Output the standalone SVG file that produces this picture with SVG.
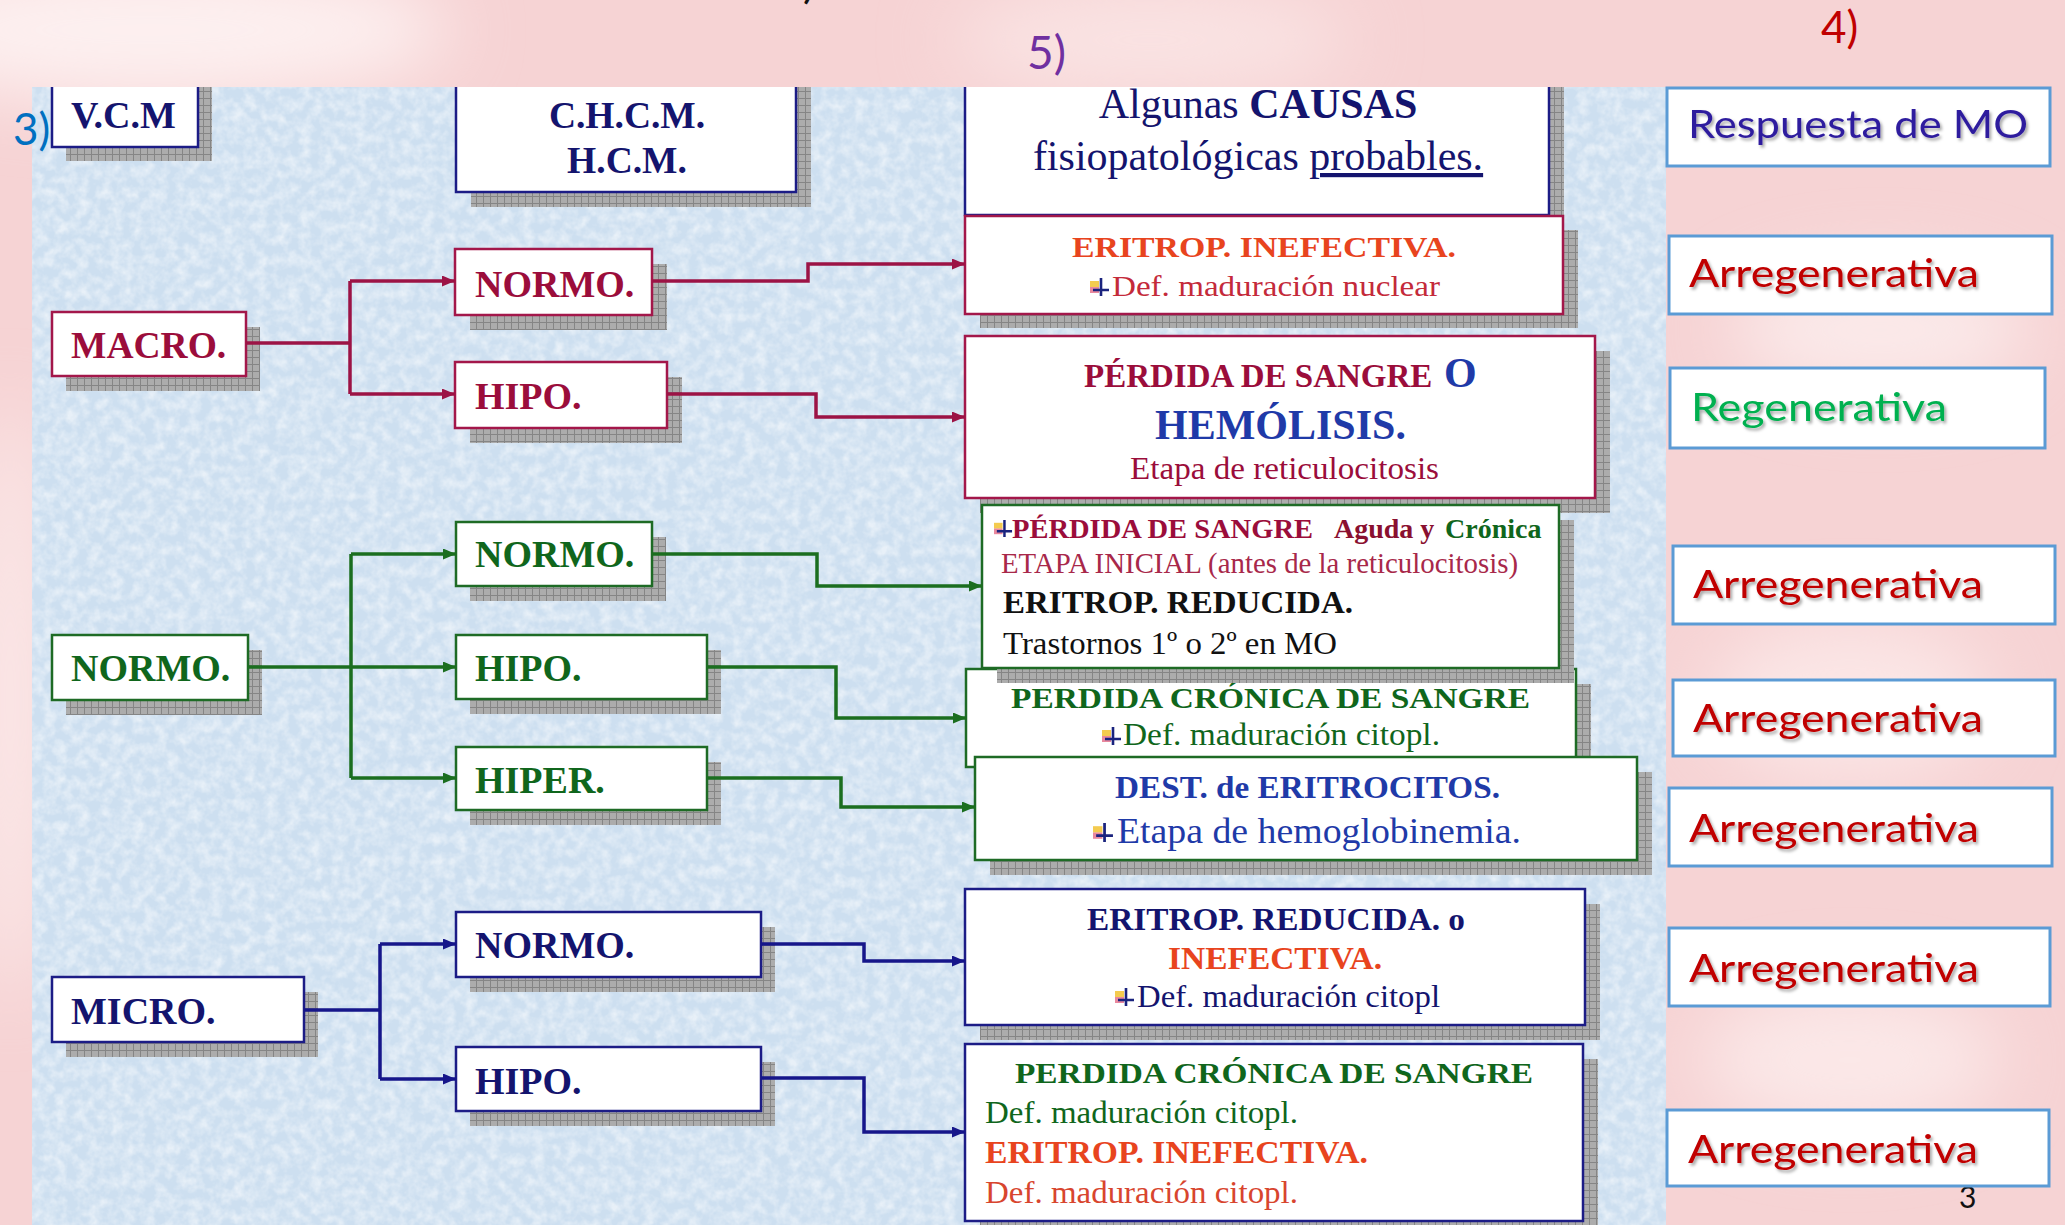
<svg xmlns="http://www.w3.org/2000/svg" xmlns:xlink="http://www.w3.org/1999/xlink" width="2065" height="1225" viewBox="0 0 2065 1225">
<defs>
<style>
.sf{font-family:'Liberation Serif','Times New Roman',serif}
.bd{font-weight:bold}
.cal{font-family:Lato,'Open Sans','Liberation Sans',sans-serif}
.box{fill:#fff;stroke-width:2.5}
.bc{stroke:#a3174a}
.bg{stroke:#1e6b25}
.bn{stroke:#1c1c86}
.sh{fill:url(#grid)}
.rb{fill:#fff;stroke:#5b9bd5;stroke-width:3}
.tc{fill:#9b0d3b}
.tg{fill:#10661c}
.tn{fill:#14146e}
.tb{fill:#1f3aa8}
.to{fill:#e8441e}
.tr{fill:#c00000}
.lc{fill:none;stroke:#9c1345;stroke-width:3.5}
.lg{fill:none;stroke:#1b6e1f;stroke-width:3.5}
.ln{fill:none;stroke:#16168a;stroke-width:3.5}
</style>
<pattern id="grid" width="7" height="7" patternUnits="userSpaceOnUse">
<rect width="7" height="7" fill="#acacac"/>
<path d="M0,0.5 H7 M0.5,0 V7" stroke="#858585" stroke-width="1"/>
</pattern>
<marker id="ac" markerWidth="13" markerHeight="11" refX="13" refY="5.5" orient="auto" markerUnits="userSpaceOnUse"><path d="M0,0 L13,5.5 L0,11 z" fill="#9c1345"/></marker>
<marker id="ag" markerWidth="13" markerHeight="11" refX="13" refY="5.5" orient="auto" markerUnits="userSpaceOnUse"><path d="M0,0 L13,5.5 L0,11 z" fill="#1b6e1f"/></marker>
<marker id="an" markerWidth="13" markerHeight="11" refX="13" refY="5.5" orient="auto" markerUnits="userSpaceOnUse"><path d="M0,0 L13,5.5 L0,11 z" fill="#16168a"/></marker>
<filter id="blur" x="-50%" y="-50%" width="200%" height="200%"><feGaussianBlur stdDeviation="35"/></filter>
<filter id="noise" x="0" y="0" width="100%" height="100%">
<feTurbulence type="fractalNoise" baseFrequency="0.09" numOctaves="3" seed="7"/>
<feColorMatrix type="matrix" values="0 0 0 0 1  0 0 0 0 1  0 0 0 0 1  0 0 -2.0 0 1.3"/>
</filter>
<filter id="ts" x="-10%" y="-20%" width="120%" height="150%"><feDropShadow dx="2" dy="2.5" stdDeviation="1.5" flood-color="#000" flood-opacity="0.35"/></filter>
<clipPath id="topclip"><rect x="0" y="0" width="2065" height="87"/></clipPath>
<symbol id="ico" viewBox="0 0 20 20" overflow="visible">
<rect x="0" y="4" width="9" height="6" fill="#f2c230" opacity="0.85"/>
<rect x="0" y="10" width="9" height="6" fill="#e2607e" opacity="0.75"/>
<path d="M11,1 V19 M3,13 H19" stroke="#1a237e" stroke-width="2.6"/>
</symbol>
<g id="bgpink">
<rect x="0" y="0" width="2065" height="1225" fill="#f6d3d4"/>
<g filter="url(#blur)">
<ellipse cx="150" cy="30" rx="300" ry="70" fill="#fdf0f0"/>
<ellipse cx="1150" cy="40" rx="200" ry="50" fill="#fae4e4"/>
<ellipse cx="1880" cy="330" rx="150" ry="60" fill="#fbeaea"/>
<ellipse cx="1850" cy="700" rx="140" ry="80" fill="#fbe6e6"/>
<ellipse cx="1850" cy="1060" rx="150" ry="70" fill="#fbe8e8"/>
<ellipse cx="10" cy="700" rx="40" ry="300" fill="#fbe9e9"/>
</g>
</g>
</defs>

<use xlink:href="#bgpink"/>
<g id="panel">
<rect x="32" y="87" width="1634" height="1138" fill="#cddff0"/>
<rect x="32" y="87" width="1634" height="1138" fill="#fff" filter="url(#noise)" opacity="0.55"/>
</g>

<g id="vcm">
<rect class="sh" x="66" y="75" width="146" height="86"/>
<rect class="box bn" x="52" y="60" width="146" height="87"/>
<text class="sf bd tn" x="71" y="128" font-size="38">V.C.M</text>
</g>
<g id="chcm">
<rect class="sh" x="471" y="75" width="340" height="132"/>
<rect class="box bn" x="456" y="60" width="340" height="132"/>
<text class="sf bd tn" x="627" y="128" font-size="37.5" text-anchor="middle">C.H.C.M.</text>
<text class="sf bd tn" x="627" y="173" font-size="37.5" text-anchor="middle">H.C.M.</text>
</g>

<g id="macro">
<rect class="sh" x="66" y="327" width="194" height="64"/>
<rect class="box bc" x="52" y="312" width="194" height="64"/>
<text class="sf bd tc" x="71" y="358" font-size="37.5">MACRO.</text>
</g>
<g id="macro-normo">
<rect class="sh" x="470" y="264" width="197" height="66"/>
<rect class="box bc" x="455" y="249" width="197" height="66"/>
<text class="sf bd tc" x="475" y="297" font-size="38">NORMO.</text>
</g>
<g id="macro-hipo">
<rect class="sh" x="470" y="377" width="212" height="66"/>
<rect class="box bc" x="455" y="362" width="212" height="66"/>
<text class="sf bd tc" x="475" y="409" font-size="38">HIPO.</text>
</g>

<g id="normo">
<rect class="sh" x="66" y="650" width="196" height="65"/>
<rect class="box bg" x="52" y="635" width="196" height="65"/>
<text class="sf bd tg" x="71" y="681" font-size="38">NORMO.</text>
</g>
<g id="normo-normo">
<rect class="sh" x="470" y="537" width="196" height="64"/>
<rect class="box bg" x="456" y="522" width="196" height="64"/>
<text class="sf bd tg" x="475" y="567" font-size="38">NORMO.</text>
</g>
<g id="normo-hipo">
<rect class="sh" x="470" y="650" width="251" height="64"/>
<rect class="box bg" x="456" y="635" width="251" height="64"/>
<text class="sf bd tg" x="475" y="681" font-size="38">HIPO.</text>
</g>
<g id="normo-hiper">
<rect class="sh" x="470" y="762" width="251" height="63"/>
<rect class="box bg" x="456" y="747" width="251" height="63"/>
<text class="sf bd tg" x="475" y="793" font-size="38">HIPER.</text>
</g>

<g id="micro">
<rect class="sh" x="66" y="992" width="252" height="65"/>
<rect class="box bn" x="52" y="977" width="252" height="65"/>
<text class="sf bd tn" x="71" y="1024" font-size="38">MICRO.</text>
</g>
<g id="micro-normo">
<rect class="sh" x="470" y="927" width="305" height="65"/>
<rect class="box bn" x="456" y="912" width="305" height="65"/>
<text class="sf bd tn" x="475" y="958" font-size="38">NORMO.</text>
</g>
<g id="micro-hipo">
<rect class="sh" x="470" y="1062" width="305" height="64"/>
<rect class="box bn" x="456" y="1047" width="305" height="64"/>
<text class="sf bd tn" x="475" y="1094" font-size="38">HIPO.</text>
</g>

<g id="causas">
<rect class="sh" x="980" y="75" width="584" height="155"/>
<rect class="box bn" x="965" y="60" width="584" height="155"/>
<text class="sf tn" x="1258" y="118" font-size="42" text-anchor="middle">Algunas <tspan class="bd">CAUSAS</tspan></text>
<text class="sf tn" x="1258" y="170" font-size="42" text-anchor="middle">fisiopatológicas <tspan text-decoration="underline">probables.</tspan></text>
</g>
<g id="c-eritrop-inef">
<rect class="sh" x="980" y="230" width="598" height="98"/>
<rect class="box bc" x="965" y="216" width="598" height="98"/>
<text class="sf bd to" x="1072" y="257" font-size="29" textLength="384" lengthAdjust="spacingAndGlyphs">ERITROP. INEFECTIVA.</text>
<use xlink:href="#ico" x="1090" y="277" width="20" height="20"/>
<text class="sf" x="1112" y="296" font-size="30" fill="#c42a3a" textLength="328" lengthAdjust="spacingAndGlyphs">Def. maduración nuclear</text>
</g>
<g id="c-perdida-hemolisis">
<rect class="sh" x="980" y="351" width="630" height="162"/>
<rect class="box bc" x="965" y="336" width="630" height="162"/>
<text class="sf bd" x="1084" y="387" font-size="33"><tspan class="tc">PÉRDIDA DE SANGRE </tspan><tspan class="tb" x="1444" font-size="42">O</tspan></text>
<text class="sf bd tb" x="1155" y="439" font-size="42">HEMÓLISIS.</text>
<text class="sf tc" x="1130" y="479" font-size="32" textLength="309" lengthAdjust="spacingAndGlyphs">Etapa de reticulocitosis</text>
</g>
<g id="c-perdida-cronica-1">
<rect class="sh" x="981" y="684" width="610" height="92"/>
<rect class="box bg" x="966" y="669" width="610" height="98"/>
<text class="sf bd tg" x="1011" y="708" font-size="30" textLength="519" lengthAdjust="spacingAndGlyphs">PERDIDA CRÓNICA DE SANGRE</text>
<use xlink:href="#ico" x="1102" y="726" width="20" height="20"/>
<text class="sf tg" x="1123" y="745" font-size="31" textLength="317" lengthAdjust="spacingAndGlyphs">Def. maduración citopl.</text>
</g>
<g id="c-perdida-aguda">
<rect class="sh" x="997" y="520" width="577" height="163"/>
<rect class="box bg" x="982" y="505" width="577" height="163"/>
<use xlink:href="#ico" x="994" y="519" width="19" height="19"/>
<text class="sf bd" x="1012" y="538" font-size="28"><tspan class="tc" textLength="301" lengthAdjust="spacingAndGlyphs">PÉRDIDA DE SANGRE</tspan><tspan x="1334" fill="#8a1030">Aguda y </tspan><tspan x="1445" class="tg">Crónica</tspan></text>
<text class="sf" x="1001" y="573" font-size="29" fill="#a8284a" textLength="517" lengthAdjust="spacingAndGlyphs">ETAPA INICIAL (antes de la reticulocitosis)</text>
<text class="sf bd" x="1003" y="613" font-size="32" fill="#111" textLength="350" lengthAdjust="spacingAndGlyphs">ERITROP. REDUCIDA.</text>
<text class="sf" x="1003" y="654" font-size="32" fill="#111" textLength="334" lengthAdjust="spacingAndGlyphs">Trastornos 1º o 2º en MO</text>
</g>
<g id="c-dest-eritrocitos">
<rect class="sh" x="990" y="772" width="662" height="103"/>
<rect class="box bg" x="975" y="757" width="662" height="103"/>
<text class="sf bd tb" x="1115" y="798" font-size="31" textLength="385" lengthAdjust="spacingAndGlyphs">DEST. de ERITROCITOS.</text>
<use xlink:href="#ico" x="1093" y="822" width="21" height="21"/>
<text class="sf tb" x="1117" y="843" font-size="35" textLength="404" lengthAdjust="spacingAndGlyphs">Etapa de hemoglobinemia.</text>
</g>
<g id="c-eritrop-reducida">
<rect class="sh" x="980" y="904" width="620" height="136"/>
<rect class="box bn" x="965" y="889" width="620" height="136"/>
<text class="sf bd tn" x="1087" y="930" font-size="31" textLength="378" lengthAdjust="spacingAndGlyphs">ERITROP. REDUCIDA. o</text>
<text class="sf bd to" x="1168" y="969" font-size="31" textLength="214" lengthAdjust="spacingAndGlyphs">INEFECTIVA.</text>
<use xlink:href="#ico" x="1115" y="987" width="20" height="20"/>
<text class="sf tn" x="1137" y="1007" font-size="31" textLength="303" lengthAdjust="spacingAndGlyphs">Def. maduración citopl</text>
</g>
<g id="c-perdida-cronica-2">
<rect class="sh" x="980" y="1059" width="618" height="177"/>
<rect class="box bn" x="965" y="1044" width="618" height="177"/>
<text class="sf bd tg" x="1015" y="1083" font-size="30" textLength="518" lengthAdjust="spacingAndGlyphs">PERDIDA CRÓNICA DE SANGRE</text>
<text class="sf tg" x="985" y="1123" font-size="31" textLength="313" lengthAdjust="spacingAndGlyphs">Def. maduración citopl.</text>
<text class="sf bd to" x="985" y="1163" font-size="31" textLength="383" lengthAdjust="spacingAndGlyphs">ERITROP. INEFECTIVA.</text>
<text class="sf" x="985" y="1203" font-size="31" fill="#d8452e" textLength="313" lengthAdjust="spacingAndGlyphs">Def. maduración citopl.</text>
</g>

<g id="connectors">
<path class="lc" d="M246,343 H350 M350,281 V394"/>
<path class="lc" d="M350,281 H455" marker-end="url(#ac)"/>
<path class="lc" d="M350,394 H455" marker-end="url(#ac)"/>
<path class="lc" d="M652,281 H808 V264 H965" marker-end="url(#ac)"/>
<path class="lc" d="M667,394 H816 V417 H965" marker-end="url(#ac)"/>
<path class="lg" d="M248,667 H456" marker-end="url(#ag)"/>
<path class="lg" d="M351,554 V778"/>
<path class="lg" d="M351,554 H456" marker-end="url(#ag)"/>
<path class="lg" d="M351,778 H456" marker-end="url(#ag)"/>
<path class="lg" d="M652,554 H817 V586 H982" marker-end="url(#ag)"/>
<path class="lg" d="M707,667 H836 V718 H966" marker-end="url(#ag)"/>
<path class="lg" d="M707,778 H841 V807 H975" marker-end="url(#ag)"/>
<path class="ln" d="M304,1010 H380 M380,944 V1079"/>
<path class="ln" d="M380,944 H456" marker-end="url(#an)"/>
<path class="ln" d="M380,1079 H456" marker-end="url(#an)"/>
<path class="ln" d="M761,944 H864 V961 H965" marker-end="url(#an)"/>
<path class="ln" d="M761,1078 H864 V1132 H965" marker-end="url(#an)"/>
</g>

<use xlink:href="#bgpink" clip-path="url(#topclip)"/>

<g id="labels">
<text class="cal" x="803" y="-2" font-size="44" fill="#111">)</text>
<text class="cal" x="13" y="145" font-size="44" fill="#0070c0">3)</text>
<text class="cal" x="1027" y="69" font-size="46" fill="#7030a0">5)</text>
<text class="cal" x="1821" y="43" font-size="44" fill="#c00000">4)</text>
<text class="cal" x="1959" y="1208" font-size="30" fill="#111">3</text>
</g>

<g id="r-respuesta">
<rect class="rb" x="1667" y="88" width="383" height="78"/>
<text class="cal" x="1688" y="138" font-size="39" fill="#2e1c9e" filter="url(#ts)" textLength="340" lengthAdjust="spacingAndGlyphs">Respuesta de MO</text>
</g>
<g id="r1">
<rect class="rb" x="1669" y="236" width="383" height="78"/>
<text class="cal tr" x="1689" y="287" font-size="39" filter="url(#ts)" textLength="290" lengthAdjust="spacingAndGlyphs">Arregenerativa</text>
</g>
<g id="r2">
<rect class="rb" x="1670" y="368" width="375" height="80"/>
<text class="cal" x="1691" y="421" font-size="39" fill="#00b050" filter="url(#ts)" textLength="256" lengthAdjust="spacingAndGlyphs">Regenerativa</text>
</g>
<g id="r3">
<rect class="rb" x="1673" y="546" width="382" height="78"/>
<text class="cal tr" x="1693" y="598" font-size="39" filter="url(#ts)" textLength="290" lengthAdjust="spacingAndGlyphs">Arregenerativa</text>
</g>
<g id="r4">
<rect class="rb" x="1673" y="680" width="382" height="76"/>
<text class="cal tr" x="1693" y="732" font-size="39" filter="url(#ts)" textLength="290" lengthAdjust="spacingAndGlyphs">Arregenerativa</text>
</g>
<g id="r5">
<rect class="rb" x="1669" y="788" width="383" height="78"/>
<text class="cal tr" x="1689" y="842" font-size="39" filter="url(#ts)" textLength="290" lengthAdjust="spacingAndGlyphs">Arregenerativa</text>
</g>
<g id="r6">
<rect class="rb" x="1669" y="928" width="381" height="78"/>
<text class="cal tr" x="1689" y="982" font-size="39" filter="url(#ts)" textLength="290" lengthAdjust="spacingAndGlyphs">Arregenerativa</text>
</g>
<g id="r7">
<rect class="rb" x="1667" y="1110" width="382" height="76"/>
<text class="cal tr" x="1688" y="1163" font-size="39" filter="url(#ts)" textLength="290" lengthAdjust="spacingAndGlyphs">Arregenerativa</text>
</g>
</svg>
